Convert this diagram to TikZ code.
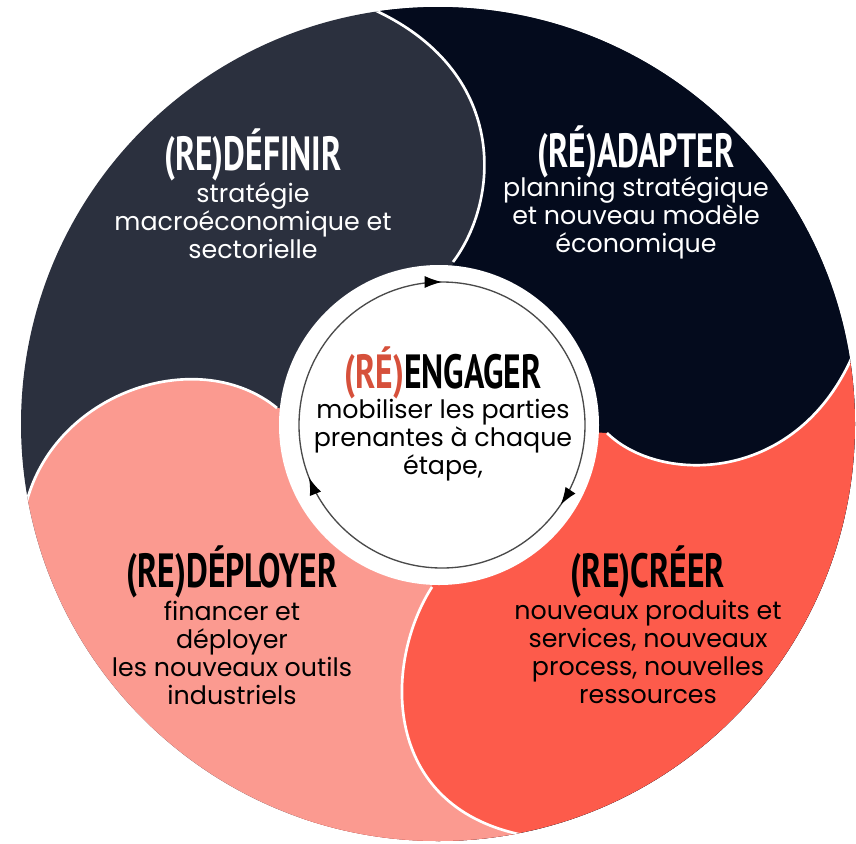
\documentclass[tikz,border=0pt]{standalone}
\usepackage{fontspec}
\setmainfont{Poppins}
\newfontfamily\titlefont{PT Sans}[FakeStretch=0.70]
\usetikzlibrary{arrows.meta,decorations.markings}
\definecolor{cgray}{HTML}{2B303E}
\definecolor{cnavy}{HTML}{040B1D}
\definecolor{cred}{HTML}{FD5B4B}
\definecolor{cpink}{HTML}{FB9A90}
\definecolor{corange}{HTML}{D6503B}
\definecolor{cring}{HTML}{4A4A4A}
\tikzset{
  sep/.style={draw=white, line width=2pt},
  ttl/.style={font={\titlefont\bfseries\fontsize{36}{40}\selectfont}, inner sep=0pt},
  bdy/.style={font={\fontsize{19}{21}\selectfont}, align=center, inner sep=0pt},
  ringtip/.tip={Latex[length=13pt,width=9pt]},
}
\begin{document}
\begin{tikzpicture}[x=0.75pt,y=-0.75pt]
\useasboundingbox (0,0) rectangle (856,843);
\coordinate (C) at (438,424);
\begin{scope}
  \clip (C) circle[radius=417];
  \fill[cgray] (C) circle[radius=420];
  % navy (top right)
  \fill[cnavy] (C) -- (453,262) .. controls (500,200) and (510,70) .. (370,8) -- (320,-14) -- (320,-60) -- (950,-60) -- (950,900) -- (438,900) -- cycle;
  % red (bottom right)
  \fill[cred] (C) -- (607,433) .. controls (660,485) and (800,485) .. (855,350) -- (900,250) -- (950,250) -- (950,950) -- (300,950) -- (300,424) -- cycle;
  % pink (bottom left)
  \fill[cpink] (C) -- (432,587) .. controls (385,660) and (380,800) .. (514,833) -- (600,855) -- (600,950) -- (-60,950) -- (-60,560) -- (10,557) -- (28,497) .. controls (60,390) and (200,345) .. (277,408) -- cycle;
  % separators
  \draw[sep] (453,262) .. controls (500,200) and (510,70) .. (370,8) -- (320,-14);
  \draw[sep] (607,433) .. controls (660,485) and (800,485) .. (855,350) -- (900,250);
  \draw[sep] (432,587) .. controls (385,660) and (380,800) .. (514,833) -- (600,855);
  \draw[sep] (10,557) -- (28,497) .. controls (60,390) and (200,345) .. (277,408);
\end{scope}
\fill[white] (439,425) circle[radius=160];
\draw[cring, line width=1pt,
  decoration={markings,
    mark=at position 0.094 with {\arrow[black]{ringtip}},
    mark=at position 0.44 with {\arrow[black]{ringtip}},
    mark=at position 0.75 with {\arrow[black]{ringtip}}},
  postaction={decorate}] (442,425) circle[radius=143];
% texts
\node[ttl, text=white] (t1) at (253,155) {(RE)DÉFINIR};
\node[bdy, text=white] (b1) at (253,221) {stratégie\\macroéconomique et\\sectorielle};
\node[ttl, text=white] (t2) at (636,152) {(RÉ)ADAPTER};
\node[bdy, text=white] (b2) at (636,218) {planning stratégique\\et nouveau modèle\\économique};
\node[ttl, text=black] (t3) at (443,373) {\textcolor{corange}{(RÉ)}ENGAGER};
\node[bdy, text=black] (b3) at (443,440) {mobiliser les parties\\prenantes à chaque\\étape,};
\node[ttl, text=black] (t4) at (232,572) {(RE)DÉPLOYER};
\node[bdy, text=black] (b4) at (232,653) {financer et\\déployer\\les nouveaux outils\\industriels};
\node[ttl, text=black] (t5) at (648,572) {(RE)CRÉER};
\node[bdy, text=black] (b5) at (648,652) {nouveaux produits et\\services, nouveaux\\process, nouvelles\\ressources};
\end{tikzpicture}
\end{document}
